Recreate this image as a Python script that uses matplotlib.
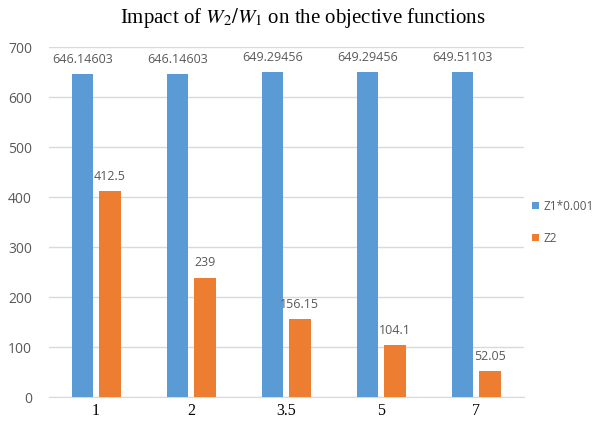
import numpy as np
import matplotlib
matplotlib.use("Agg")
import matplotlib.pyplot as plt

# data
ratios = ["1", "2", "3.5", "5", "7"]
z1_scaled = [646.14603, 646.14603, 649.29456, 649.29456, 649.51103]
z2 = [412.5, 239, 156.15, 104.1, 52.05]
z1_labels = ["646.14603", "646.14603", "649.29456", "649.29456", "649.51103"]
z2_labels = ["412.5", "239", "156.15", "104.1", "52.05"]

blue = "#5B9BD5"
orange = "#ED7D31"
grey_txt = "#595959"

plt.rcParams['mathtext.fontset'] = 'stix'

fig = plt.figure(figsize=(6.07, 4.21), dpi=100)
ax = fig.add_axes([0.080, 0.057, 0.783, 0.831])

x = np.arange(len(ratios))
w = 0.227
off = 0.1435
b1 = ax.bar(x - off, z1_scaled, w, color=blue, label="Z1*0.001", zorder=3)
b2 = ax.bar(x + off, z2, w, color=orange, label="Z2", zorder=3)

# data labels above the bars
for bars, labs in ((b1, z1_labels), (b2, z2_labels)):
    for rect, lab in zip(bars, labs):
        ax.annotate(lab, (rect.get_x() + rect.get_width() / 2, rect.get_height()),
                    xytext=(0, 6), textcoords="offset points", ha="center", va="bottom",
                    fontsize=9, color=grey_txt, family="Open Sans")

ax.set_xlim(-0.5, len(ratios) - 0.5)
ax.set_ylim(0, 700)
ax.set_yticks(range(0, 701, 100))
ax.set_xticks(x)
ax.set_xticklabels(ratios, family="Liberation Serif", fontsize=11.5, color="black")
for t in ax.get_yticklabels():
    t.set_family("Open Sans")
    t.set_fontsize(10)
    t.set_color(grey_txt)

ax.grid(axis="y", color="#D9D9D9", linewidth=1, zorder=0)
for s in ["top", "right", "left"]:
    ax.spines[s].set_visible(False)
ax.spines["bottom"].set_color("#D9D9D9")
ax.tick_params(axis="x", length=0, pad=4)
ax.tick_params(axis="y", length=0, pad=12)

leg = ax.legend(loc="center left", bbox_to_anchor=(0.995, 0.5), frameon=False,
                handlelength=0.6, handleheight=0.6, handletextpad=0.4,
                labelspacing=1.6, prop={"family": "Open Sans", "size": 8.5})
for t in leg.get_texts():
    t.set_color(grey_txt)

fig.text(0.498, 0.957, "Impact of $W_2/W_1$ on the objective functions",
         ha="center", va="center", fontsize=15, family="Liberation Serif")

fig.savefig("out.png", dpi=100)
